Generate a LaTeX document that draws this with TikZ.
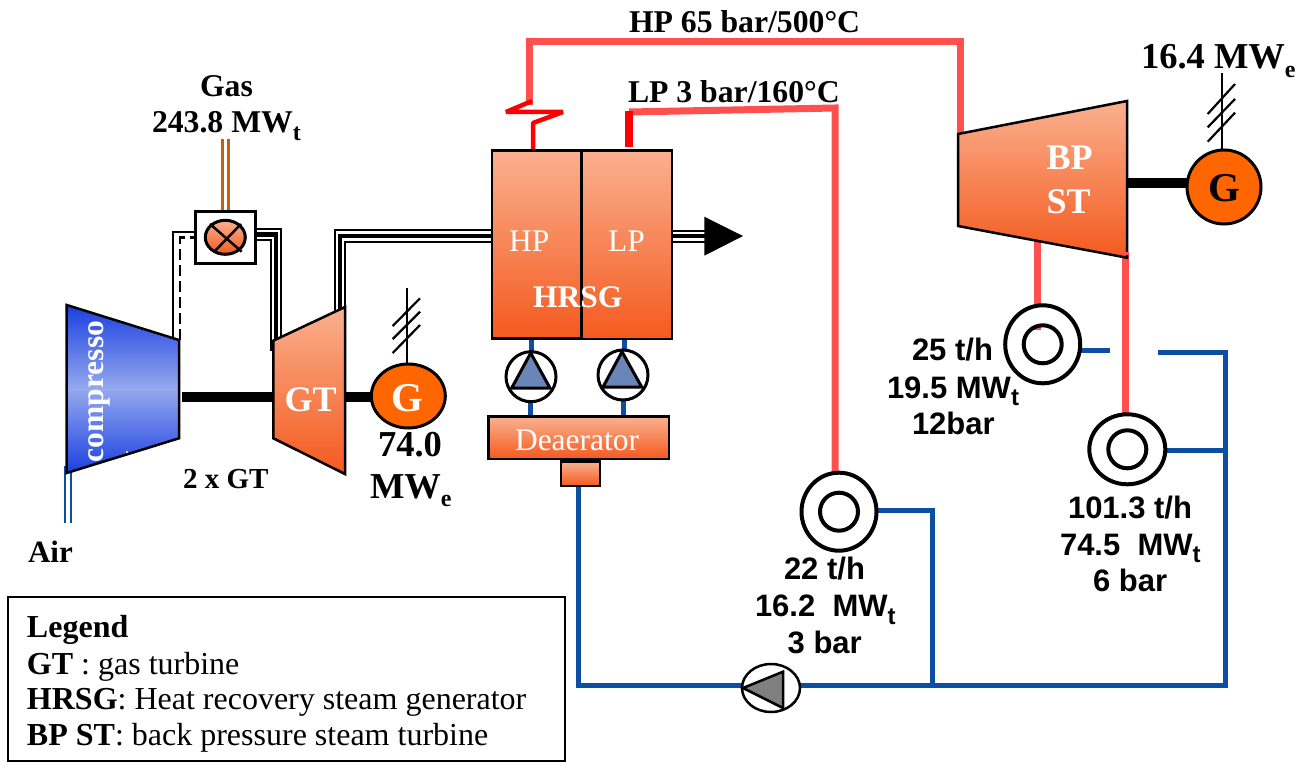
\documentclass[tikz,border=0pt]{standalone}
\usepackage{fontspec}
\setmainfont{Liberation Serif}
\newfontfamily\labsans{Liberation Sans}
\usetikzlibrary{shapes.geometric}
\definecolor{steamred}{HTML}{FF5050}
\definecolor{hotred}{HTML}{FF0000}
\definecolor{waterblue}{HTML}{0B4EA2}
\definecolor{warmtop}{HTML}{FAB08F}
\definecolor{warmbot}{HTML}{F45A1E}
\definecolor{genorange}{HTML}{FF6600}
\definecolor{pumpblue}{HTML}{6A85B8}
\definecolor{gasbrown}{HTML}{C06010}
\definecolor{compdark}{HTML}{1A3FE0}
\definecolor{complight}{HTML}{95A9EE}
\newcommand{\fsz}[1]{\fontsize{#1}{#1}\selectfont}
\newcommand{\lowsub}[1]{\raisebox{-0.24em}{\fsz{24}\textbf{#1}}}
\tikzset{
  lab/.style={anchor=base west,inner sep=0pt,outer sep=0pt,font=\fsz{31.7}\bfseries},
  sanslab/.style={anchor=base west,inner sep=0pt,outer sep=0pt,font=\fsz{31}\labsans\bfseries},
  leg/.style={anchor=base west,inner sep=0pt,outer sep=0pt,font=\fsz{32}},
  wlab/.style={anchor=base west,inner sep=0pt,outer sep=0pt,text=white,font=\fsz{31.5}},
  wbold/.style={wlab,font=\fsz{36}\bfseries},
  warm/.style={draw=black,line width=2.5pt,top color=warmtop,bottom color=warmbot,inner sep=0pt,outer sep=0pt,rectangle},
  steam/.style={draw=steamred,line width=7pt},
  water/.style={draw=waterblue,line width=5pt},
  hxouter/.style={ellipse,draw=black,line width=4pt,fill=white,inner sep=0pt,outer sep=0pt},
  hxinner/.style={circle,draw=black,line width=4pt,fill=white,inner sep=0pt,outer sep=0pt,minimum size=38pt},
  pumpring/.style={circle,draw=black,line width=3pt,fill=white,inner sep=0pt,outer sep=0pt,minimum size=50pt},
  gen/.style={ellipse,draw=black,line width=3pt,fill=genorange,inner sep=0pt,outer sep=0pt},
  shaft/.style={draw=black,line width=10pt},
  elec/.style={draw=black,line width=2.2pt},
  gasline/.style={draw=black,line width=2pt},
  gasmain/.style={draw=black,line width=4.5pt},
}
\begin{document}
\begin{tikzpicture}[x=1pt,y=-1pt]
\useasboundingbox (0,0) rectangle (1303,762);
\fill[white] (0,0) rectangle (1303,762);

% named junctions
\coordinate (hpA) at (529,105);
\coordinate (hpB) at (529,42);
\coordinate (hpC) at (960,42);
\coordinate (hpD) at (960,134);
\coordinate (lpA) at (629,112);
\coordinate (lpB) at (835,108);
\coordinate (lpC) at (835,473);
\coordinate (tapA) at (1037,240);
\coordinate (tapB) at (1037,330);
\coordinate (tapC) at (1125,255);
\coordinate (tapD) at (1125,416);
\coordinate (busW) at (578,486);
\coordinate (busSW) at (578,685);
\coordinate (busE) at (1225,685);
\coordinate (busNE) at (1225,352);
\coordinate (busN) at (1158,352);
\coordinate (hx1e) at (1110,350);
\coordinate (hx1w) at (1079,350);
\coordinate (hx2r) at (1225,450);
\coordinate (hx3r) at (932,510);
\coordinate (hx3b) at (932,685);

% steam pipes
\draw[steam,line join=miter] (hpA) -- (hpB) -- (hpC) -- (hpD);
\draw[steam] (lpA) -- (lpB) -- (lpC);
\draw[steam] (tapA) -- (tapB);
\draw[steam] (tapC) -- (tapD);
\draw[draw=hotred,line width=4.5pt,line join=bevel] (532,101) -- (506,112) -- (563,112) -- (533,123) -- (533,151);
\draw[draw=hotred,line width=8pt] (629,111) -- (629,147);

% water pipes
\draw[water] (busW) -- (busSW) -- (busE) -- (busNE) -- (busN);
\draw[water] (hx1w) -- (hx1e);
\draw[water] (1165,450) -- (hx2r);
\draw[water] (873,510) -- (hx3r) -- (hx3b);
\draw[water] (531,338) -- (531,353);
\draw[water] (530,403) -- (530,416);
\draw[water] (624.5,338) -- (624.5,350);
\draw[water] (623,400) -- (623,416);

% gas-path bundles
\draw[gasline] (173,340) -- (173,231.5) -- (196,231.5);
\draw[gasline,dash pattern=on 11pt off 5pt,line width=2.6pt] (180,340) -- (180,237.5) -- (196,237.5);
\draw[gasline] (255,229) -- (281,229) -- (281,337);
\draw[gasmain] (255,234.5) -- (276,234.5) -- (276,342);
\draw[gasline] (255,240) -- (270.5,240) -- (270.5,351);
\draw[gasline] (335,316) -- (335,230) -- (492,230);
\draw[gasmain] (340,314) -- (340,236) -- (492,236);
\draw[gasline] (345,312) -- (345,241.5) -- (492,241.5);
\draw[gasline] (672,230.5) -- (706,230.5);
\draw[gasmain] (672,236) -- (706,236);
\draw[gasline] (672,241.5) -- (706,241.5);
\fill[black] (704.3,216.7) -- (743,236) -- (704.3,255.7) -- cycle;
\draw[draw=gasbrown,line width=2.8pt] (222.7,139) -- (222.7,212);
\draw[draw=gasbrown,line width=2.8pt] (228.7,139) -- (228.7,212);
\draw[draw=waterblue,line width=2.6pt] (65,466) -- (65,523);
\draw[draw=waterblue,line width=2.6pt] (71,466) -- (71,523);

% shafts
\draw[shaft] (181.7,396.7) -- (274,396.7);
\draw[shaft] (345,396.7) -- (373,396.7);
\draw[shaft] (1127,182.7) -- (1190,182.7);

% compressor and turbines
\shadedraw[draw=black,line width=2.5pt,top color=compdark,bottom color=compdark,middle color=complight,line join=miter]
  (66.7,305) -- (179,340) -- (179,438.3) -- (66.7,473) -- cycle;
\fill[white] (127,452) circle (1.2pt);
\shadedraw[draw=black,line width=2.5pt,top color=warmtop,bottom color=warmbot,line join=miter]
  (273.3,340.7) -- (345,307) -- (345,474) -- (273.3,438.3) -- cycle;
\shadedraw[draw=black,line width=2.5pt,top color=warmtop,bottom color=warmbot,line join=miter]
  (958,134) -- (1127,101) -- (1127,257.7) -- (958,226) -- cycle;
\draw[steam] (1125,252) -- (tapC);

% HRSG, deaerator
\node[warm,minimum width=89.7pt,minimum height=187.6pt] (hrsgHP) at (536.8,244.5) {};
\node[warm,minimum width=90pt,minimum height=188.3pt] (hrsgLP) at (627,244.85) {};
\node[warm,minimum width=180.3pt,minimum height=42.3pt] (deaer) at (578.85,437.85) {};
\node[warm,minimum width=39pt,minimum height=24.3pt] (deaerfoot) at (580.5,473.85) {};

% feed pumps
\node[pumpring] (pumpA) at (531,376.7) {};
\filldraw[draw=black,line width=3pt,fill=pumpblue,line join=miter] (530.7,353) -- (511.7,388) -- (550,388) -- cycle;
\node[pumpring] (pumpB) at (623,375) {};
\filldraw[draw=black,line width=3pt,fill=pumpblue,line join=miter] (622,351.7) -- (603,387) -- (641.7,387) -- cycle;
\node[ellipse,draw=black,line width=2.5pt,fill=white,inner sep=0pt,minimum width=58pt,minimum height=48pt] (mainpump) at (771,688) {};
\filldraw[draw=black,line width=2.5pt,fill=black!50,line join=miter] (743,688) -- (783,671.7) -- (783,708) -- cycle;

% heat exchangers
\node[hxouter,minimum width=75pt,minimum height=78pt] (hx1) at (1042.7,344.3) {};
\draw[draw=steamred,line width=7pt] (1037,326) -- (1037,330);
\node[hxinner,fill=none] (hx1i) at (1042.7,344.3) {};
\node[hxouter,minimum width=76pt,minimum height=70pt] (hx2) at (1127.3,449.3) {};
\node[hxinner] (hx2i) at (1127.3,449.3) {};
\node[hxouter,minimum width=75pt,minimum height=78pt] (hx3) at (839,511.7) {};
\node[hxinner] (hx3i) at (839,511.7) {};

% burner
\node[draw=black,line width=2.5pt,fill=white,minimum width=59.6pt,minimum height=51.6pt,inner sep=0pt] (burnerbox) at (225.5,237.5) {};
\node[ellipse,draw=black,line width=3pt,top color=warmtop,bottom color=warmbot,minimum width=40pt,minimum height=34pt,inner sep=0pt] (burner) at (225.3,237.3) {};
\draw[line width=2.5pt] (210,224) -- (241.7,251.7);
\draw[line width=2.5pt] (241,224) -- (214,252);

% generators and electric ties
\node[gen,minimum width=74pt,minimum height=64pt] (genA) at (408.3,396) {};
\node[gen,minimum width=74pt,minimum height=74pt] (genB) at (1224,187) {};
\coordinate (elA) at (407.3,288);
\coordinate (elB) at (1222,73);
\draw[elec] (elA) -- (genA.north -| elA);
\draw[elec] (elB) -- (genB.north -| elB);
\draw[elec] (392.7,326) -- (420,298.3);
\draw[elec] (392.7,339) -- (420,311.7);
\draw[elec] (392.7,353) -- (420,325);
\draw[elec] (1207.7,114) -- (1235,84);
\draw[elec] (1207.7,127.3) -- (1235,99);
\draw[elec] (1207.7,141.7) -- (1235,112.7);

% white labels
\node[wbold,font=\fsz{31.5}\bfseries,text=white,rotate=90] (tcomp) at (103,462) {compresso};
\node[wbold] (tgt) at (284.5,411.7) {GT};
\node[wbold,font=\fsz{41}\bfseries] (tg1) at (391,411.7) {G};
\node[wbold] (tbp) at (1046.7,170) {BP};
\node[wbold] (tst) at (1046.7,213.3) {ST};
\node[wlab] (thp) at (509,251.7) {HP};
\node[wlab] (tlp) at (608,251.7) {LP};
\node[wbold,font=\fsz{31.5}\bfseries] (thrsg) at (533,307.7) {HRSG};
\node[wlab] (tdea) at (515,450.7) {Deaerator};
\node[lab,font=\fsz{41}\bfseries] (tg2) at (1208,201.7) {G};

% black labels
\node[lab] (tgas) at (200,96.7) {Gas};
\node[lab] (tgasv) at (152,133) {243.8 MW\lowsub{t}};
\node[lab] (thp65) at (629,33) {HP 65 bar/500°C};
\node[lab] (tlp3) at (628,103) {LP 3 bar/160°C};
\node[lab,font=\fsz{36.5}\bfseries] (t164) at (1141,69) {16.4 MW\lowsub{e}};
\node[lab,font=\fsz{36.5}\bfseries] (t74) at (378,456.7) {74.0};
\node[lab,font=\fsz{36.5}\bfseries] (tmwe) at (370,498) {MW\lowsub{e}};
\node[lab,font=\fsz{29}\bfseries] (t2gt) at (183,488) {2 x GT};
\node[lab,font=\fsz{31}\bfseries] (tair) at (28,562) {Air};
\node[sanslab] (a1) at (912,360) {25 t/h};
\node[sanslab] (a2) at (887,398) {19.5 MW\lowsub{t}};
\node[sanslab] (a3) at (912,434) {12bar};
\node[sanslab] (b1) at (1068,518) {101.3 t/h};
\node[sanslab] (b2) at (1060,555) {74.5\ \ MW\lowsub{t}};
\node[sanslab] (b3) at (1093,591) {6 bar};
\node[sanslab] (c1) at (784,579) {22 t/h};
\node[sanslab] (c2) at (755,616.7) {16.2\ \ MW\lowsub{t}};
\node[sanslab] (c3) at (787.7,653) {3 bar};

% legend
\node[draw=black,line width=1.5pt,minimum width=557pt,minimum height=164pt,inner sep=0pt] (legbox) at (286.5,679) {};
\node[leg,font=\fsz{32}\bfseries] (l1) at (27,637) {Legend};
\node[leg] (l2) at (27,674) {\textbf{GT} : gas turbine};
\node[leg] (l3) at (27,709) {\textbf{HRSG}: Heat recovery steam generator};
\node[leg] (l4) at (27,745) {\textbf{BP ST}: back pressure steam turbine};
\end{tikzpicture}
\end{document}
